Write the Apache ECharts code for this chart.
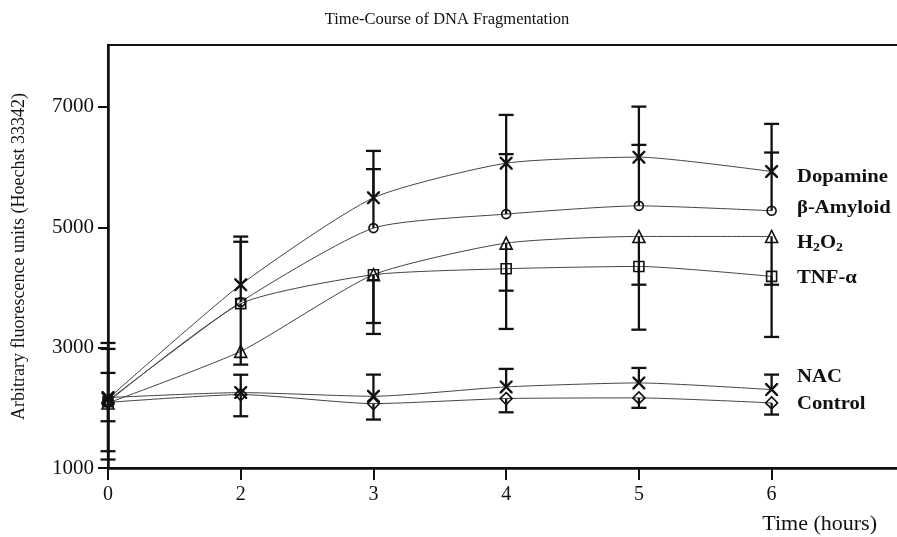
<!DOCTYPE html>
<html><head><meta charset="utf-8">
<script src="https://cdn.jsdelivr.net/npm/echarts@6/dist/echarts.min.js"></script>
<style>html,body{margin:0;padding:0;background:#fff}#c{width:897px;height:537px}</style>
</head><body><div id="c"></div>
<script>
const categories = ['0', '2', '3', '4', '5', '6'];
const yTicks = [1000, 3000, 5000, 7000];

const dopamine = [2150, 4046, 5490, 6066, 6166, 5927];
const amyloid  = [2120, 3760, 4987, 5220, 5357, 5275];
const h2o2     = [2080, 2939, 4212, 4738, 4848, 4848];
const tnf      = [2100, 3731, 4212, 4312, 4350, 4184];
const nac      = [2170, 2253, 2192, 2348, 2414, 2303];
const control  = [2090, 2220, 2070, 2154, 2165, 2082];

// error bar ends (one-sided)
const dopamineHigh = [3078, 4846, 6270, 6868, 7006, 6719];
const amyloidHigh  = [2979, 4760, 5967, 6216, 6370, 6243];
const h2o2Low      = [1279, null, 3410, 3947, 4046, 4046];
const tnfLow       = [1141, 2718, 3228, 3311, 3299, 3178];
const nacHigh      = [2580, 2550, 2552, 2647, 2663, 2552];
const controlLow   = [1777, 1860, 1805, 1926, 2000, 1888];

const serif = '"Liberation Serif", "DejaVu Serif", serif';
const ink = '#111';
const xPath = 'path://M0,0 L1.3,0 L5,3.7 L8.7,0 L10,0 L10,1.3 L6.3,5 L10,8.7 L10,10 L8.7,10 L5,6.3 L1.3,10 L0,10 L0,8.7 L3.7,5 L0,1.3 Z';

function lineSeries(name, vals, symbol, size, filled) {
  return {
    name, type: 'line', smooth: 0.2, z: 3,
    data: vals.map((v, i) => [i, v]),
    symbol, symbolSize: size, showAllSymbol: true,
    lineStyle: { color: '#444', width: 1 },
    itemStyle: filled ? { color: ink, borderWidth: 0 } : { color: 'transparent', borderColor: ink, borderWidth: 1.6 },
    emphasis: { disabled: true }, animation: false
  };
}
function errSeries(center, bound) {
  const data = [];
  center.forEach((c, i) => { if (bound[i] != null) data.push([i, c, bound[i]]); });
  return {
    type: 'custom', z: 4, animation: false, clip: false,
    data, encode: { x: 0, y: [1, 2] },
    renderItem: function (params, api) {
      const x = api.value(0), c = api.value(1), b = api.value(2);
      const p0 = api.coord([x, c]), p1 = api.coord([x, b]);
      const hw = 7.5;
      return { type: 'group', children: [
        { type: 'line', shape: { x1: p0[0], y1: p0[1], x2: p1[0], y2: p1[1] }, style: { stroke: ink, lineWidth: 2.3 } },
        { type: 'line', shape: { x1: p1[0] - hw, y1: p1[1], x2: p1[0] + hw, y2: p1[1] }, style: { stroke: ink, lineWidth: 2.3 } }
      ]};
    }
  };
}

const labels = [
  { t: 'Dopamine', y: 180 },
  { t: 'β-Amyloid', y: 211 },
  { t: 'H{s|2}O{s|2}', y: 246 },
  { t: 'TNF-α', y: 281 },
  { t: 'NAC', y: 380 },
  { t: 'Control', y: 407 }
];

const chart = echarts.init(document.getElementById('c'), null, { renderer: 'canvas' });
chart.setOption({
  backgroundColor: '#fff',
  animation: false,
  title: {
    text: 'Time-Course of DNA Fragmentation', left: 442, top: 6, textAlign: 'center',
    textStyle: { fontFamily: serif, fontSize: 16.5, fontWeight: 'normal', color: ink }
  },
  grid: { left: 108, top: 45, right: -6, bottom: 69, show: true, borderColor: ink, borderWidth: 2, backgroundColor: 'transparent', outerBoundsMode: 'none', containLabel: false },
  xAxis: {
    type: 'value', min: 0, max: 5.99,
    axisLine: { lineStyle: { color: ink, width: 2.5 } },
    axisTick: { show: true, length: 12, lineStyle: { color: ink, width: 2 }, customValues: [0, 1, 2, 3, 4, 5] },
    axisLabel: { customValues: [0, 1, 2, 3, 4, 5], formatter: v => categories[Math.round(v)], margin: 17, fontFamily: serif, fontSize: 20, color: ink },
    splitLine: { show: false },
    name: 'Time (hours)', nameLocation: 'end', nameGap: 0,
    nameTextStyle: { fontFamily: serif, fontSize: 22, color: ink, align: 'right', verticalAlign: 'top', padding: [45, 26, 0, 0] }
  },
  yAxis: {
    type: 'value', min: 1000, max: 8030,
    axisLine: { lineStyle: { color: ink, width: 2.5 } },
    axisTick: { show: true, length: 10, lineStyle: { color: ink, width: 2 }, customValues: yTicks },
    axisLabel: { customValues: yTicks, formatter: v => String(v), margin: 14, fontFamily: serif, fontSize: 21, color: ink },
    splitLine: { show: false },
    name: 'Arbitrary fluorescence units (Hoechst 33342)', nameLocation: 'middle', nameGap: 80, nameRotate: 90,
    nameTextStyle: { fontFamily: serif, fontSize: 18, color: ink }
  },
  graphic: labels.map(l => ({
    type: 'text', left: 797, top: l.y - 12, z: 10, scaleX: 1.15,
    style: {
      text: l.t, fill: ink, font: 'bold 18px ' + serif,
      rich: { s: { fontSize: 12, fontWeight: 'bold', fontFamily: serif, fill: ink, padding: [9, 0, 0, 0] } }
    }
  })),
  series: [
    lineSeries('Dopamine', dopamine, xPath, 13, true),
    lineSeries('β-Amyloid', amyloid, 'circle', 9, false),
    lineSeries('H2O2', h2o2, 'triangle', 12, false),
    lineSeries('TNF-α', tnf, 'rect', 10, false),
    lineSeries('NAC', nac, xPath, 13, true),
    lineSeries('Control', control, 'diamond', 12, false),
    errSeries(dopamine, dopamineHigh),
    errSeries(amyloid, amyloidHigh),
    errSeries(h2o2, h2o2Low),
    errSeries(tnf, tnfLow),
    errSeries(nac, nacHigh),
    errSeries(control, controlLow)
  ]
});
</script></body></html>
